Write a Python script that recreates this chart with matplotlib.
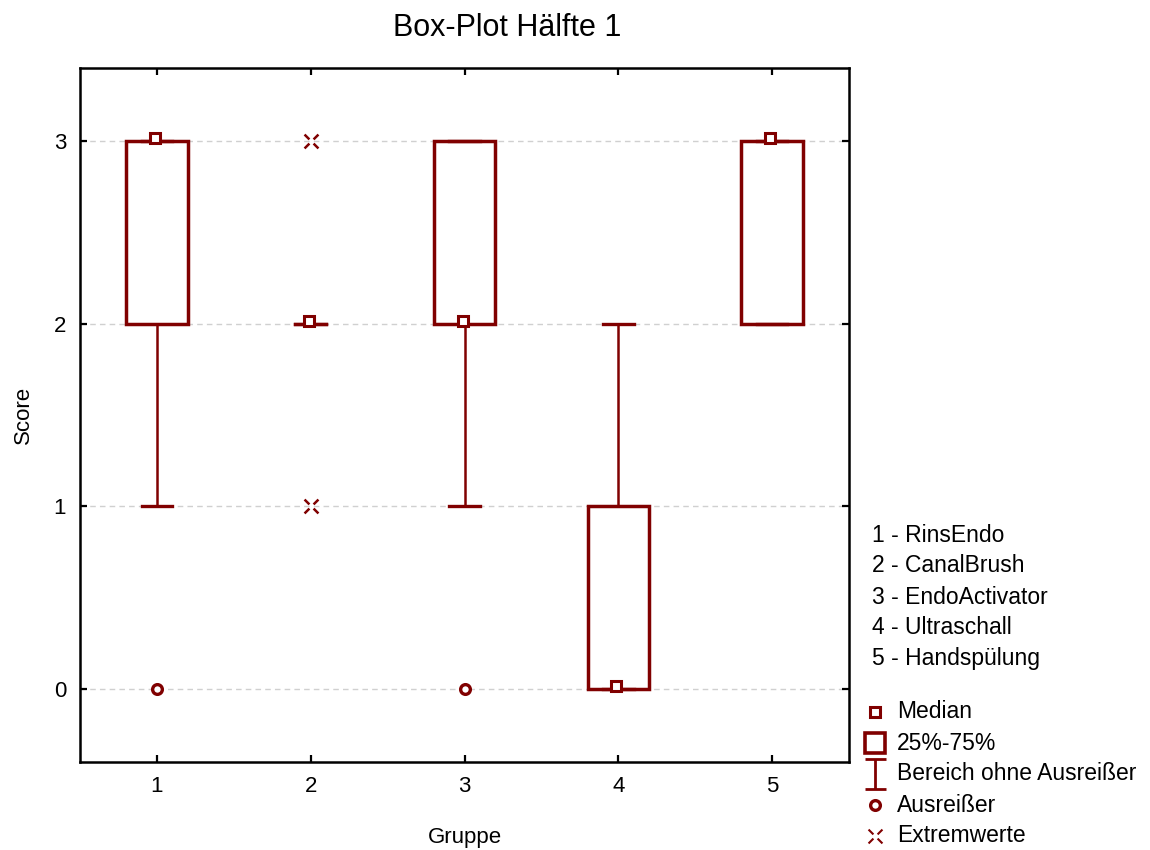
import matplotlib
matplotlib.use("Agg")
import matplotlib.pyplot as plt
from matplotlib.patches import Rectangle
from matplotlib.lines import Line2D
from matplotlib.path import Path
from matplotlib.transforms import ScaledTranslation

plt.rcParams['font.family'] = ['Liberation Sans', 'DejaVu Sans']

# box plot statistics per group
groups = [1, 2, 3, 4, 5]
medians = [3, 2, 2, 0, 3]
q1 = [2, 2, 2, 0, 2]
q3 = [3, 2, 3, 1, 3]
whisk_lo = [1, 2, 1, 0, 2]
whisk_hi = [3, 2, 3, 2, 3]
outlier_x = [1, 3]
outlier_y = [0, 0]
extreme_x = [2, 2]
extreme_y = [3, 1]

group_names = ["1 - RinsEndo", "2 - CanalBrush", "3 - EndoActivator",
               "4 - Ultraschall", "5 - Handspülung"]
legend_labels = ["Median", "25%-75%", "Bereich ohne Ausreißer",
                 "Ausreißer", "Extremwerte"]

red = "#800000"
box_w = 0.4
cap_w = 0.2

# custom markers
ext_verts, ext_codes = [], []
for sx, sy in [(1, 1), (-1, 1), (1, -1), (-1, -1)]:
    ext_verts += [(0.3 * sx, 0.3 * sy), (sx, sy)]
    ext_codes += [Path.MOVETO, Path.LINETO]
extreme_marker = Path(ext_verts, ext_codes)
ibeam_marker = Path([(0, -1), (0, 1), (-0.72, 1), (0.72, 1), (-0.72, -1), (0.72, -1)],
                    [Path.MOVETO, Path.LINETO, Path.MOVETO, Path.LINETO, Path.MOVETO, Path.LINETO])

fig = plt.figure(figsize=(11.5, 8.5), dpi=100)
ax = fig.add_axes([80/1150, 1 - 762/850, (849 - 80)/1150, (762 - 68)/850])

for g, lo, a, b, hi in zip(groups, whisk_lo, q1, q3, whisk_hi):
    if b > a:
        ax.add_patch(Rectangle((g - box_w/2, a), box_w, b - a, fill=False,
                               ec=red, lw=2.5, zorder=3))
    ax.plot([g, g], [lo, a], color=red, lw=1.8, zorder=2)
    ax.plot([g, g], [b, hi], color=red, lw=1.8, zorder=2)
    ax.plot([g - cap_w/2, g + cap_w/2], [lo, lo], color=red, lw=2.4, zorder=3)
    ax.plot([g - cap_w/2, g + cap_w/2], [hi, hi], color=red, lw=2.4, zorder=3)

shift = ax.transData + ScaledTranslation(-2/100, 3/100, fig.dpi_scale_trans)
ax.plot(groups, medians, ls='none', marker='s', ms=6.5, mfc='white', mec=red,
        mew=2.2, transform=shift, zorder=4)
ax.plot(outlier_x, outlier_y, ls='none', marker='o', ms=7, mfc='white',
        mec=red, mew=2.4, zorder=4)
ax.plot(extreme_x, extreme_y, ls='none', marker=extreme_marker, ms=10,
        mec=red, mew=1.8, zorder=4)

ax.set_xlim(0.5, 5.5)
ax.set_ylim(-0.4, 3.4)
ax.set_xticks(groups)
ax.set_yticks([0, 1, 2, 3])
ax.yaxis.grid(True, ls=(0, (4, 3)), color='#d0d0d0', lw=1)
ax.set_axisbelow(True)
ax.tick_params(direction='in', length=5, width=1.6, labelsize=16, pad=10,
               top=True, right=True)
for s in ax.spines.values():
    s.set_linewidth(1.8)

fig.text(507/1150, 1 - 28/850, "Box-Plot Hälfte 1", fontsize=22,
         ha='center', va='center')
ax.set_xlabel("Gruppe", fontsize=16, labelpad=22)
ax.set_ylabel("Score", fontsize=16, labelpad=14)

# group name key
for i, name in enumerate(group_names):
    fig.text(872/1150, 1 - (535 + 31*i)/850, name, fontsize=16.5, va='center')

# symbol key
styles = [dict(marker='s', ms=6.5, mfc='white', mew=2.2),
          dict(marker='s', ms=15, mfc='white', mew=2.6),
          dict(marker=ibeam_marker, ms=21, mew=2),
          dict(marker='o', ms=7, mfc='white', mew=2.4),
          dict(marker=extreme_marker, ms=10, mew=1.5)]
for i, (lab, st) in enumerate(zip(legend_labels, styles)):
    y = 1 - (712 + 31*i)/850
    fig.add_artist(Line2D([875/1150], [y], transform=fig.transFigure,
                          ls='none', mec=red, color=red, **st))
    fig.text(897/1150, y, lab, fontsize=16.5, va='center')

fig.savefig("out.png", dpi=100)
